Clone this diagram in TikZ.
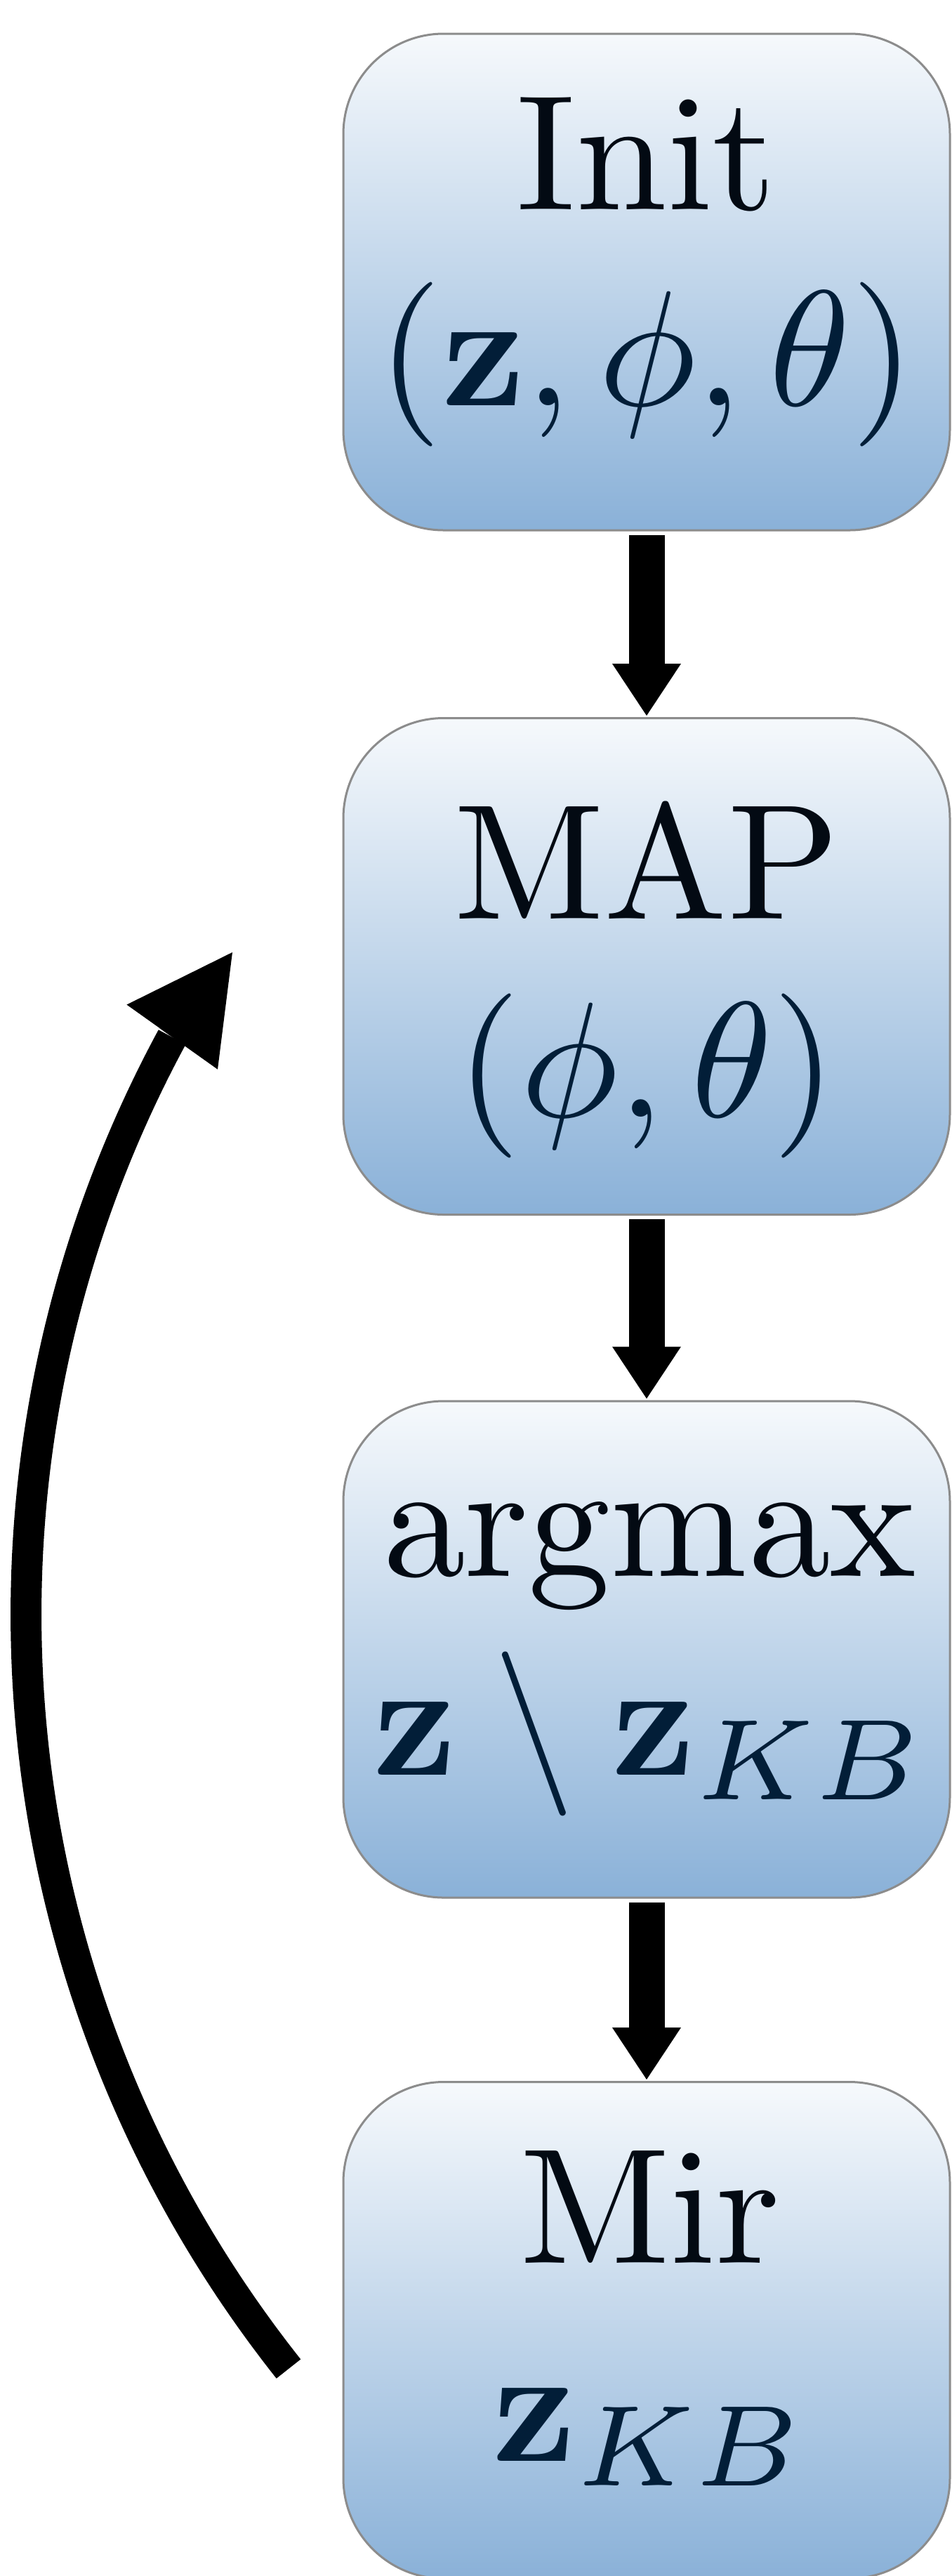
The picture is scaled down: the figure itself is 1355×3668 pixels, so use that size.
\documentclass[tikz,border=0pt]{standalone}
\usetikzlibrary{arrows.meta}
\DeclareFontShape{OT1}{cmr}{m}{n}{<-100>cmr7<100->cmr10}{}
\DeclareFontShape{OT1}{cmr}{bx}{n}{<-100>cmbx7<100->cmbx10}{}
\DeclareFontShape{OML}{cmm}{m}{it}{<-100>cmmi7<100->cmmi10}{}
\DeclareFontShape{OMS}{cmsy}{m}{n}{<-100>cmsy7<100->cmsy10}{}
\definecolor{boxtop}{HTML}{F6F9FC}
\definecolor{boxbot}{HTML}{8AB1D8}
\definecolor{boxline}{HTML}{8C8C8C}
\definecolor{txtA}{HTML}{030A13}
\definecolor{txtB}{HTML}{021E38}
\begin{document}
\begin{tikzpicture}[x=0.5pt,y=0.5pt,
  flowbox/.style={draw=boxline, line width=1.5pt, rounded corners=71.5pt,
    top color=boxtop, bottom color=boxbot,
    minimum width=432pt, minimum height=353.5pt, inner sep=0pt},
  lbl/.style={anchor=base, inner sep=0pt,
    font=\fontsize{117}{140}\usefont{OT1}{cmr}{m}{n}},
  downarrow/.style={line width=25.5pt,
    -{Triangle[length=37pt,width=49pt,line width=0pt]},
    shorten <=2.5pt, shorten >=1pt},
  loopline/.style={line width=22pt},
  looptip/.style={line width=22pt,
    -{Triangle[length=74pt,width=79.5pt,line width=0pt]}}
]
\useasboundingbox (0,0) rectangle (1355,-3668);

\node[flowbox] (b1) at (921,-401.5) {};
\node[flowbox] (b2) at (921,-1376) {};
\node[flowbox] (b3) at (921,-2348.5) {};
\node[flowbox] (b4) at (921,-3318) {};

\node[lbl, text=txtA] (t1a) at (921,-298) {Init};
\node[lbl, text=txtB] (t1b) at (921,-577) {$(\mathbf{z},\phi,\theta)$};
\node[lbl, text=txtA] (t2a) at (921,-1308) {MAP};
\node[lbl, text=txtB] (t2b) at (921,-1590) {$(\phi,\theta)$};
\node[lbl, text=txtA] (t3a) at (925,-2244) {argmax};
\node[lbl, text=txtB] (t3b) at (921,-2527) {$\mathbf{z}\setminus\mathbf{z}_{KB}$};
\node[lbl, text=txtA] (t4a) at (926,-3222) {Mir};
\node[lbl, text=txtB] (t4b) at (921,-3504) {$\mathbf{z}_{KB}$};

\draw[downarrow] (b1.south) -- (b2.north);
\draw[downarrow] (b2.south) -- (b3.north);
\draw[downarrow] (b3.south) -- (b4.north);

\coordinate (lp) at (411,-3373);
\coordinate (lt) at (331,-1356);
\draw[loopline] (lp) arc[start angle=218.4, end angle=151.6, radius=1729] coordinate (lb);
\draw[looptip] (lb) -- (lt);
\end{tikzpicture}
\end{document}
